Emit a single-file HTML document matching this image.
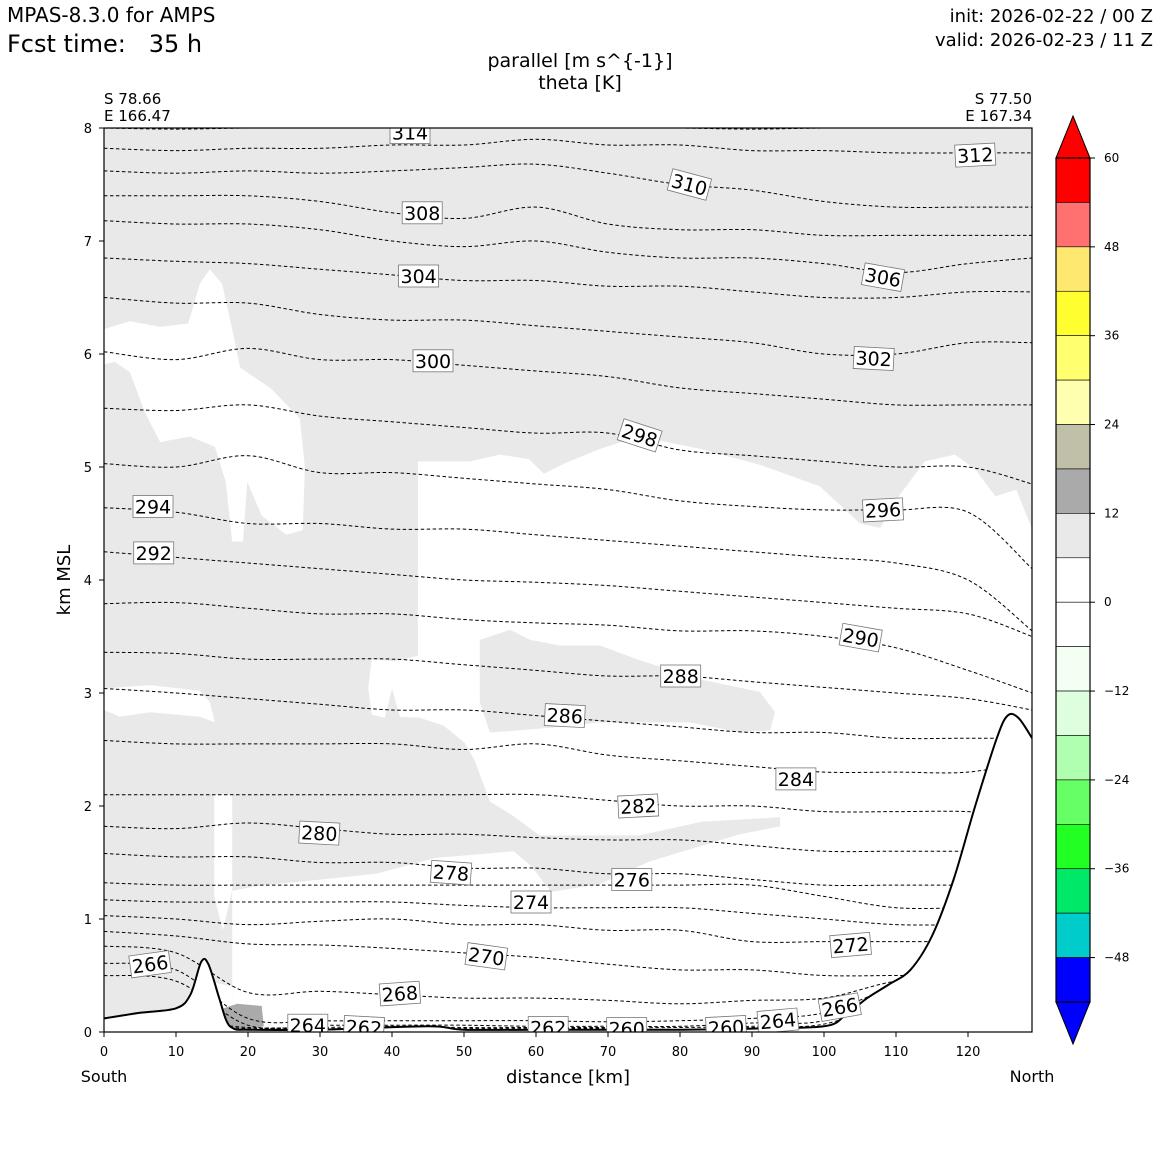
<!DOCTYPE html>
<html><head><meta charset="utf-8"><style>
html,body{margin:0;padding:0;background:#fff;}
svg{display:block;font-family:"DejaVu Sans","Liberation Sans",sans-serif;}
</style></head><body>
<svg id="chart" width="1160" height="1160" viewBox="0 0 1160 1160" xmlns="http://www.w3.org/2000/svg">
<rect width="1160" height="1160" fill="#fff"/>
<text x="7" y="22" font-size="20">MPAS-8.3.0 for AMPS</text>
<text x="7" y="52" font-size="24" xml:space="preserve">Fcst time:   35 h</text>
<text x="1153" y="22" font-size="18" text-anchor="end">init: 2026-02-22 / 00 Z</text>
<text x="1153" y="46" font-size="18" text-anchor="end">valid: 2026-02-23 / 11 Z</text>
<text x="580" y="67" font-size="19" text-anchor="middle">parallel [m s^{-1}]</text>
<text x="580" y="89" font-size="19" text-anchor="middle">theta [K]</text>
<text x="104" y="104" font-size="15">S 78.66</text>
<text x="104" y="121" font-size="15">E 166.47</text>
<text x="1032" y="104" font-size="15" text-anchor="end">S 77.50</text>
<text x="1032" y="121" font-size="15" text-anchor="end">E 167.34</text>
<defs><clipPath id="plotclip"><rect x="104" y="128" width="928" height="904"/></clipPath></defs>
<g id="plot" clip-path="url(#plotclip)"></g>
<rect x="104" y="128" width="928" height="904" fill="none" stroke="#000" stroke-width="1.2"/>
<g id="axes"></g>
<text transform="translate(70,580) rotate(-90)" font-size="18" text-anchor="middle">km MSL</text>
<text x="568" y="1083" font-size="18" text-anchor="middle">distance [km]</text>
<text x="104" y="1082" font-size="16" text-anchor="middle">South</text>
<text x="1032" y="1082" font-size="16" text-anchor="middle">North</text>
<g id="cbar"></g>
</svg>
<script>
const NS="http://www.w3.org/2000/svg";
const xKm=[0,10,20,30,40,50,60,70,80,90,100,110,120,128.9];
const thetaLevels=[314,312,310,308,306,304,302,300,298,296,294,292,290,288,286,284,282,280,278,276,274,272,270,268,266,264,262,260];
const thetaHeights=[
[8.0,7.99,8.0,8.0,8.0,8.0,8.0,8.0,8.0,7.99,8.0,8.0,8.0,8.0],
[7.82,7.8,7.82,7.82,7.85,7.85,7.9,7.85,7.85,7.8,7.8,7.78,7.78,7.78],
[7.62,7.6,7.62,7.6,7.62,7.65,7.68,7.6,7.5,7.45,7.35,7.3,7.3,7.3],
[7.4,7.4,7.4,7.35,7.25,7.2,7.3,7.15,7.1,7.1,7.05,7.05,7.05,7.05],
[7.18,7.15,7.15,7.1,7.0,6.95,7.0,6.9,6.85,6.85,6.8,6.72,6.8,6.85],
[6.85,6.82,6.8,6.75,6.7,6.65,6.65,6.6,6.6,6.55,6.5,6.5,6.55,6.55],
[6.5,6.45,6.45,6.35,6.3,6.3,6.25,6.2,6.15,6.1,6.0,6.0,6.1,6.1],
[6.02,5.95,6.05,5.95,5.95,5.9,5.85,5.8,5.7,5.65,5.6,5.55,5.55,5.55],
[5.52,5.5,5.55,5.45,5.4,5.35,5.3,5.3,5.15,5.1,5.05,5.0,5.0,4.85],
[5.03,5.0,5.1,4.95,4.95,4.9,4.85,4.8,4.7,4.65,4.62,4.62,4.6,4.1],
[4.64,4.6,4.5,4.5,4.45,4.45,4.4,4.35,4.3,4.25,4.2,4.15,4.0,3.55],
[4.25,4.2,4.15,4.1,4.05,4.0,3.98,3.95,3.9,3.85,3.8,3.75,3.7,3.5],
[3.79,3.8,3.75,3.7,3.7,3.65,3.62,3.6,3.55,3.55,3.5,3.4,3.2,3.0],
[3.36,3.35,3.3,3.3,3.3,3.25,3.2,3.15,3.15,3.1,3.05,3.0,2.95,2.85],
[3.04,3.0,2.95,2.9,2.85,2.85,2.8,2.75,2.7,2.65,2.65,2.6,2.6,2.6],
[2.58,2.55,2.55,2.55,2.55,2.5,2.55,2.45,2.4,2.35,2.3,2.3,2.3,2.4],
[2.1,2.1,2.1,2.1,2.1,2.1,2.1,2.05,2.0,2.0,1.95,1.95,1.95,1.9],
[1.82,1.8,1.85,1.8,1.75,1.75,1.72,1.7,1.7,1.65,1.6,1.6,1.6,1.6],
[1.58,1.55,1.55,1.5,1.5,1.45,1.45,1.4,1.4,1.35,1.3,1.3,1.3,1.3],
[1.32,1.3,1.3,1.3,1.3,1.3,1.3,1.3,1.3,1.3,1.2,1.1,1.1,1.1],
[1.17,1.15,1.15,1.15,1.15,1.12,1.1,1.1,1.1,1.05,1.0,0.95,0.95,0.95],
[1.03,1.0,0.95,0.98,1.0,0.95,0.95,0.9,0.9,0.8,0.8,0.8,0.8,0.8],
[0.89,0.85,0.78,0.77,0.74,0.7,0.66,0.6,0.55,0.55,0.5,0.5,0.5,0.5],
[0.76,0.7,0.35,0.36,0.33,0.3,0.3,0.28,0.25,0.28,0.3,0.45,0.5,0.5],
[0.61,0.55,0.12,0.1,0.1,0.1,0.1,0.09,0.1,0.12,0.17,0.4,0.5,0.5],
[0.5,0.45,0.06,0.06,0.06,0.06,0.05,0.05,0.05,0.08,0.1,0.35,0.5,0.5],
[0.05,0.1,0.04,0.04,0.05,0.04,0.04,0.04,0.04,0.05,0.07,0.3,0.5,0.5],
[0.04,0.08,0.03,0.03,0.03,0.03,0.03,0.03,0.02,0.04,0.05,0.25,0.5,0.5]];
const terrainX=[0,5,10,12,13.5,14.5,16,17,18,20,30,45,50,60,80,90,100,103,106,109,112,115,118,121,124,125.5,127,128.9];
const terrainZ=[0.12,0.17,0.21,0.33,0.62,0.6,0.3,0.1,0.03,0.02,0.02,0.05,0.02,0.02,0.02,0.03,0.05,0.15,0.3,0.42,0.55,0.85,1.35,2.0,2.6,2.8,2.78,2.6];
const whiteRegionMain=[[43.6,5.05],[50.8,5.05],[55,5.11],[59,5.07],[61.1,4.94],[63.9,5.03],[68.9,5.16],[74.4,5.27],[82.8,5.16],[91.1,5.02],[99.4,4.83],[105,4.5],[107.8,4.46],[110.6,4.76],[114,5.05],[118.2,5.11],[121,4.98],[123.8,4.74],[126.7,4.8],[128.9,4.45],[128.9,0],[17.8,0],[17.8,1.25],[22,1.3],[27.2,1.33],[37.8,1.4],[46,1.54],[56.9,1.6],[59.3,1.47],[62.1,1.24],[68.9,1.31],[75.8,1.51],[88.3,1.75],[93.9,1.82],[93.9,1.9],[83,1.86],[74.4,1.74],[60.5,1.74],[56.9,1.91],[53.6,2.04],[51.5,2.4],[50.1,2.56],[47.2,2.71],[43.9,2.78],[41.1,2.79],[40,3.04],[39,2.78],[37.2,2.81],[36.7,3.04],[37.2,3.3],[40.3,3.28],[43.6,3.33]];
const greyBlob=[[52.2,3.47],[56.4,3.56],[59.2,3.47],[63.3,3.42],[68.9,3.42],[74.4,3.29],[82.8,3.12],[91.1,3.01],[93.2,2.83],[92.5,2.67],[88.3,2.65],[81.4,2.74],[74.4,2.74],[68.9,2.74],[63.3,2.7],[57.8,2.67],[53.6,2.65],[52.2,2.92],[52.2,3.27]];
const whiteRegionUpperLeft=[[0,6.22],[3.6,6.29],[7.8,6.24],[11.7,6.27],[13.3,6.62],[14.7,6.75],[16.4,6.62],[17.8,6.22],[18.9,5.88],[23.1,5.7],[27.2,5.43],[27.9,5.0],[27.6,4.44],[25.3,4.4],[21.9,4.57],[19.9,4.87],[19.3,4.34],[17.8,4.34],[16.9,4.87],[15.4,5.18],[11.9,5.27],[7.8,5.22],[5.7,5.48],[3.6,5.84],[1.5,5.93],[0,5.91]];
const whiteStripLeft=[[0,3.04],[6.4,3.07],[13.3,3.02],[14.7,2.92],[15.4,2.74],[13.3,2.79],[6.4,2.83],[2.2,2.79],[0,2.85]];
const whiteGapLeft=[[15.3,2.1],[17.8,2.1],[17.8,1.25],[16.5,0.9],[15.3,1.2]];
const whiteNearGround=[[0,0.1],[10,0.2],[14.5,0.45],[17.8,0.4],[17.8,0],[0,0]];
const darkGreyPatch=[[16.2,0.2],[18.5,0.25],[21.9,0.23],[22.2,0.05],[20,0.02],[17.5,0.02]];
const labelTheta=[314,312,310,308,306,304,302,300,298,296,294,292,290,288,286,284,282,280,278,276,274,272,270,268,266,266,264,264,262,262,260,260];
const labelXKm=[42.5,121,81.3,44.2,108.2,43.7,106.9,45.7,74.4,108.2,6.8,6.9,105.1,80.1,64.0,96.1,74.2,29.9,48.2,73.3,59.3,103.7,53.1,41.1,6.4,102.2,93.6,28.3,36.1,61.7,72.6,86.4];
const labelZKm=[7.96,7.76,7.5,7.25,6.68,6.69,5.96,5.94,5.28,4.62,4.65,4.24,3.49,3.15,2.8,2.24,2.0,1.76,1.41,1.35,1.15,0.77,0.67,0.34,0.6,0.22,0.1,0.06,0.04,0.04,0.03,0.04];
const labelAngle=[0,-3,15,0,10,0,3,0,18,-3,0,0,10,0,3,0,-3,3,4,0,0,-5,8,-4,-8,-10,-5,0,3,0,0,-3];
const xTicks=[0,10,20,30,40,50,60,70,80,90,100,110,120];
const yTicks=[0,1,2,3,4,5,6,7,8];
const cbarBounds=[60,54,48,42,36,30,24,18,12,6,0,-6,-12,-18,-24,-30,-36,-42,-48,-54];
const cbarColors=["#ff0000","#ff7070","#ffe870","#ffff30","#ffff70","#ffffb0","#c0c0a8","#aaaaaa","#e9e9e9","#ffffff","#ffffff","#f2fff2","#ddffdd","#b0ffb0","#66ff66","#22ff22","#00e868","#00cccc","#0000ff"];
const cbarTicks=[60,48,36,24,12,0,-12,-24,-36,-48];

const X=k=>104+k*7.2, Y=z=>1032-z*113, CY=v=>158+(60-v)*(844/114);
const plot=document.getElementById('plot'), axes=document.getElementById('axes'), cbar=document.getElementById('cbar');
function mk(tag,attrs,parent){const e=document.createElementNS(NS,tag);for(const k in attrs)e.setAttribute(k,attrs[k]);parent.appendChild(e);return e;}
function poly(pts,fill,name){const e=mk('polygon',{points:pts.map(p=>X(p[0]).toFixed(1)+','+Y(p[1]).toFixed(1)).join(' '),fill:fill},plot);

return e;}
function smooth(px){let d='M'+px[0][0].toFixed(1)+','+px[0][1].toFixed(1);
for(let i=0;i<px.length-1;i++){const p0=px[Math.max(0,i-1)],p1=px[i],p2=px[i+1],p3=px[Math.min(px.length-1,i+2)];
const c1=[p1[0]+(p2[0]-p0[0])/6,p1[1]+(p2[1]-p0[1])/6],c2=[p2[0]-(p3[0]-p1[0])/6,p2[1]-(p3[1]-p1[1])/6];
d+=' C'+c1[0].toFixed(1)+','+c1[1].toFixed(1)+' '+c2[0].toFixed(1)+','+c2[1].toFixed(1)+' '+p2[0].toFixed(1)+','+p2[1].toFixed(1);}return d;}
const bg=mk('rect',{x:104,y:128,width:928,height:904,fill:'#e9e9e9'},plot);


poly(whiteRegionMain,'#fff','white-region-main');
poly(greyBlob,'#e9e9e9','grey-blob-mid');
poly(whiteRegionUpperLeft,'#fff','white-region-upper-left');
poly(whiteStripLeft,'#fff','white-strip-left');
poly(whiteGapLeft,'#fff','white-gap-left');
poly(whiteNearGround,'#fff','white-near-ground');
poly(darkGreyPatch,'#aaaaaa','dark-grey-patch');
thetaLevels.forEach((t,i)=>{const pts=xKm.map((k,j)=>[X(k),Y(thetaHeights[i][j])]);
const p=mk('path',{d:smooth(pts),fill:'none',stroke:'#000','stroke-width':1,'stroke-dasharray':'3.5,2.5'},plot);

});
const tpts=terrainX.map((k,i)=>[X(k),Y(terrainZ[i])]);
let td=smooth(tpts);
const tf=mk('path',{d:td+' L1040,1040 L100,1040 Z',fill:'#fff'},plot);


const tl=mk('path',{d:td,fill:'none',stroke:'#000','stroke-width':2},plot);


labelTheta.forEach((t,i)=>{const g=mk('g',{transform:`translate(${X(labelXKm[i]).toFixed(1)},${Y(labelZKm[i]).toFixed(1)}) rotate(${labelAngle[i]})`},plot);


mk('rect',{x:-20,y:-11,width:40,height:22,fill:'#fff',stroke:'#777','stroke-width':0.8},g);
const tx=mk('text',{x:0,y:7,'font-size':19,'text-anchor':'middle'},g);tx.textContent=t;});
xTicks.forEach(v=>{mk('line',{x1:X(v),x2:X(v),y1:1032,y2:1037,stroke:'#000'},axes);
const t=mk('text',{x:X(v),y:1056,'font-size':13,'text-anchor':'middle'},axes);t.textContent=v;

});
yTicks.forEach(v=>{mk('line',{x1:99,x2:104,y1:Y(v),y2:Y(v),stroke:'#000'},axes);
const t=mk('text',{x:92,y:Y(v)+5,'font-size':13,'text-anchor':'end'},axes);t.textContent=v;

});
mk('polygon',{points:`1056,${CY(60)} 1073,116 1090,${CY(60)}`,fill:cbarColors[0],stroke:'#000'},cbar);
mk('polygon',{points:`1056,${CY(-54)} 1073,1044 1090,${CY(-54)}`,fill:cbarColors[18],stroke:'#000'},cbar);
cbarColors.forEach((c,i)=>{const r=mk('rect',{x:1056,y:CY(cbarBounds[i]),width:34,height:CY(cbarBounds[i+1])-CY(cbarBounds[i]),fill:c,stroke:'#000','stroke-width':0.6},cbar);

});
mk('rect',{x:1056,y:CY(60),width:34,height:CY(-54)-CY(60),fill:'none',stroke:'#000','stroke-width':1.2},cbar);
cbarTicks.forEach(v=>{mk('line',{x1:1090,x2:1095,y1:CY(v),y2:CY(v),stroke:'#000'},cbar);
const t=mk('text',{x:1104,y:CY(v)+4,'font-size':12},cbar);t.textContent=v<0?'\u2212'+(-v):v;

});
</script>
</body></html>
